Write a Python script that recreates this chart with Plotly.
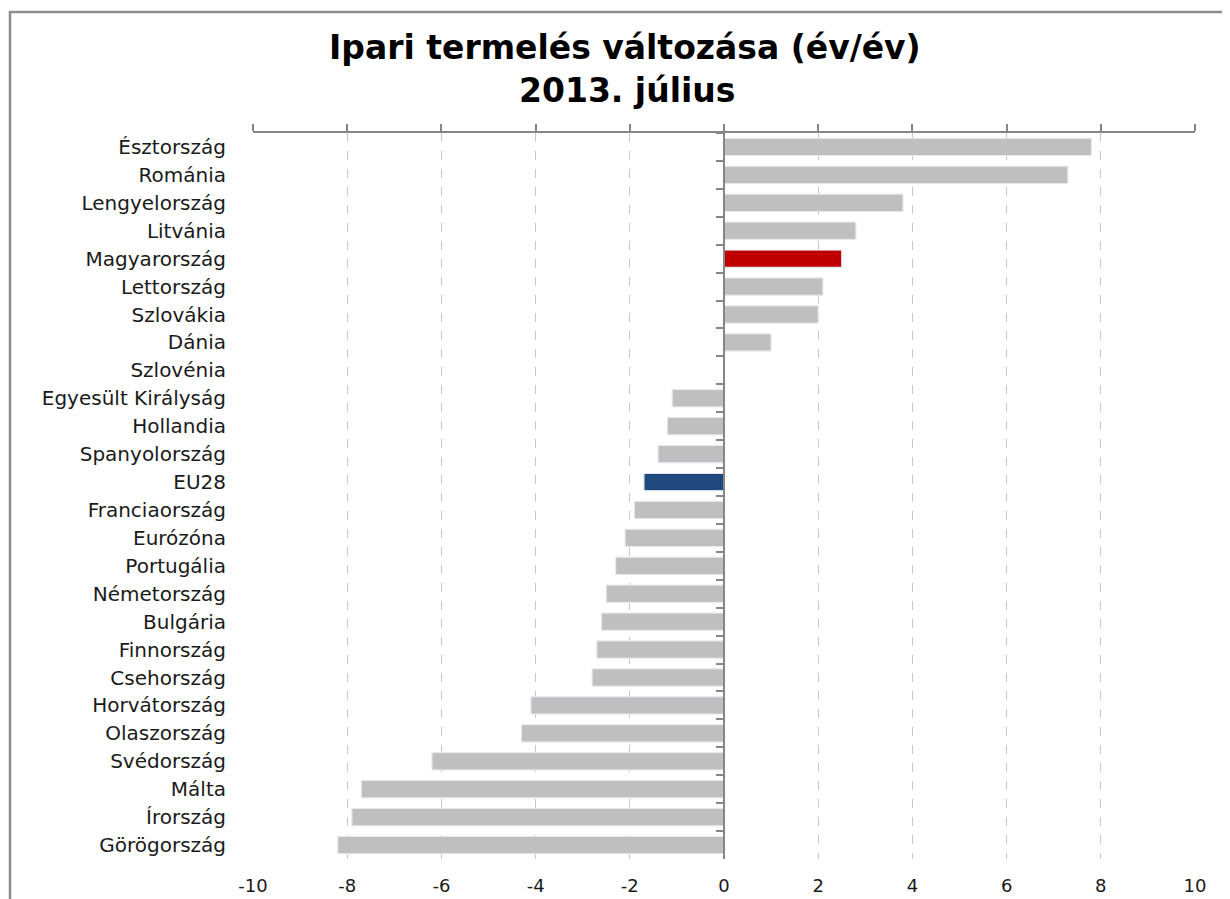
import plotly.graph_objects as go

title_line1 = "Ipari termelés változása (év/év)"
title_line2 = "2013. július"

countries = ["Észtország", "Románia", "Lengyelország", "Litvánia", "Magyarország",
             "Lettország", "Szlovákia", "Dánia", "Szlovénia", "Egyesült Királyság",
             "Hollandia", "Spanyolország", "EU28", "Franciaország", "Eurózóna",
             "Portugália", "Németország", "Bulgária", "Finnország", "Csehország",
             "Horvátország", "Olaszország", "Svédország", "Málta", "Írország",
             "Görögország"]
values = [7.8, 7.3, 3.8, 2.8, 2.5, 2.1, 2.0, 1.0, 0.0, -1.1,
          -1.2, -1.4, -1.7, -1.9, -2.1, -2.3, -2.5, -2.6, -2.7, -2.8,
          -4.1, -4.3, -6.2, -7.7, -7.9, -8.2]
x_ticks = [-10, -8, -6, -4, -2, 0, 2, 4, 6, 8, 10]

base_color = "#BFBFBF"
highlight = {"Magyarország": "#C00000", "EU28": "#1F497D"}
bar_colors = [highlight.get(c, base_color) for c in countries]

# page has an 8px body margin, so the figure is laid out 8px smaller
OFF = 8
W, H = 1230 - OFF, 899 - OFF
L, T = 253 - OFF, 133 - OFF
pw, ph = 942, 726
R, B = W - L - pw, H - T - ph
axis_gray = "#868686"
label_font = dict(family="DejaVu Sans", size=20, color="#1a1a1a")
title_font = dict(family="DejaVu Sans", size=33, color="#000000")


def px_to_paper(xp, yp):
    """page pixel -> paper coordinates"""
    return (xp - OFF - L) / pw, (T + ph - (yp - OFF)) / ph


fig = go.Figure()
fig.add_trace(go.Bar(
    x=values, y=countries, orientation="h",
    marker=dict(color=bar_colors, line=dict(color="#E6E6E6", width=1)),
    hoverinfo="x+y", showlegend=False,
))
# transparent copy to carry the top axis and the category ticks at zero
fig.add_trace(go.Bar(
    x=values, y=countries, orientation="h", xaxis="x2", yaxis="y2",
    marker=dict(color="rgba(0,0,0,0)"), hoverinfo="skip", showlegend=False,
))

t1x, t1y = px_to_paper(625, 48)
t2x, t2y = px_to_paper(627, 91)
bx0, by1 = px_to_paper(10, 12)
bx1, by0 = px_to_paper(1240, 910)

fig.update_layout(
    width=W, height=H,
    margin=dict(l=L, r=R, t=T, b=B, autoexpand=False),
    paper_bgcolor="white", plot_bgcolor="white",
    bargap=0.38,
    annotations=[
        dict(text=f"<b>{title_line1}</b>", x=t1x, y=t1y, xref="paper", yref="paper",
             xanchor="center", yanchor="middle", showarrow=False, font=title_font),
        dict(text=f"<b>{title_line2}</b>", x=t2x, y=t2y, xref="paper", yref="paper",
             xanchor="center", yanchor="middle", showarrow=False, font=title_font),
    ],
    xaxis=dict(
        range=[-10, 10], tickmode="array", tickvals=x_ticks,
        ticktext=[str(v) for v in x_ticks],
        showgrid=True, gridcolor="#C8C8C8", griddash="dash", gridwidth=1,
        zeroline=False, showline=False,
        ticks="outside", ticklen=10, tickcolor="rgba(0,0,0,0)",
        tickfont=dict(family="DejaVu Sans", size=18, color="#1a1a1a"),
        fixedrange=True,
    ),
    xaxis2=dict(
        range=[-10, 10], overlaying="x", side="top", anchor="y",
        tickmode="array", tickvals=x_ticks, showticklabels=False,
        showgrid=False, zeroline=False,
        showline=True, linecolor=axis_gray, linewidth=2,
        ticks="outside", ticklen=7, tickcolor=axis_gray, tickwidth=1.5,
    ),
    yaxis=dict(
        categoryorder="array", categoryarray=countries, autorange="reversed",
        showgrid=False, zeroline=False, showline=False,
        ticks="outside", ticklen=22, tickcolor="rgba(0,0,0,0)",
        tickfont=label_font,
    ),
    yaxis2=dict(
        categoryorder="array", categoryarray=countries, autorange="reversed",
        overlaying="y", anchor="free", position=0.5, side="left",
        showticklabels=False, showgrid=False, zeroline=False,
        showline=True, linecolor=axis_gray, linewidth=2,
        ticks="outside", tickson="boundaries", ticklen=7,
        tickcolor=axis_gray, tickwidth=1.5,
    ),
    shapes=[dict(
        type="rect", xref="paper", yref="paper",
        x0=bx0, x1=bx1, y0=by0, y1=by1,
        line=dict(color="#8C8C8C", width=2.5), fillcolor="rgba(0,0,0,0)",
        layer="below",
    )],
)

fig.write_html("out.html")
